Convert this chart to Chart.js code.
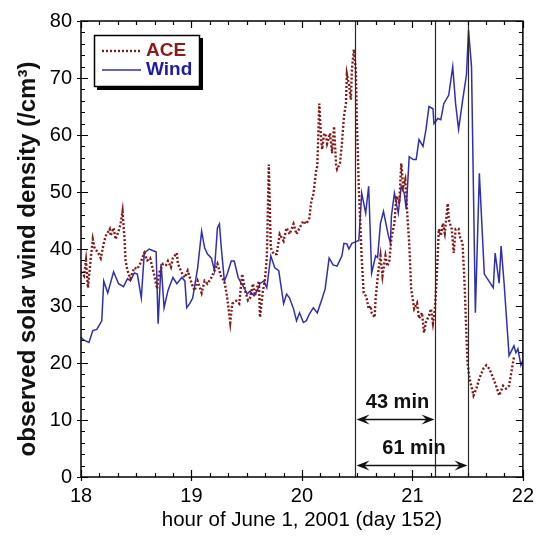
<!DOCTYPE html>
<html>
<head>
<meta charset="utf-8">
<script src="https://cdn.jsdelivr.net/npm/chart.js@4.4.1/dist/chart.umd.min.js"></script>
<style>
  html, body { margin: 0; padding: 0; background: #fff; }
</style>
</head>
<body>
<canvas id="density" width="541" height="540"></canvas>
<script>
// ACE (upstream) density, hour of day
const aceHours = [18.000, 18.027, 18.045, 18.063, 18.089, 18.107, 18.125, 18.152, 18.179, 18.206,
  18.224, 18.260, 18.268, 18.295, 18.313, 18.340, 18.358, 18.376, 18.394, 18.403,
  18.421, 18.447, 18.465, 18.483, 18.510, 18.537, 18.573, 18.600, 18.626, 18.662,
  18.689, 18.707, 18.743, 18.770, 18.787, 18.814, 18.832, 18.868, 18.877, 18.913,
  18.940, 18.966, 19.002, 19.029, 19.056, 19.092, 19.119, 19.145, 19.181, 19.208,
  19.235, 19.271, 19.298, 19.324, 19.351, 19.369, 19.405, 19.432, 19.459, 19.485,
  19.512, 19.530, 19.557, 19.575, 19.611, 19.620, 19.647, 19.664, 19.682, 19.700,
  19.718, 19.745, 19.772, 19.799, 19.834, 19.861, 19.888, 19.924, 19.951, 19.978,
  20.013, 20.040, 20.067, 20.085, 20.103, 20.112, 20.130, 20.139, 20.157, 20.174,
  20.183, 20.201, 20.219, 20.228, 20.255, 20.273, 20.291, 20.309, 20.318, 20.344,
  20.362, 20.380, 20.398, 20.407, 20.425, 20.443, 20.452, 20.470, 20.488, 20.497,
  20.515, 20.532, 20.541, 20.559, 20.577, 20.586, 20.604, 20.622, 20.631, 20.658,
  20.667, 20.694, 20.711, 20.729, 20.756, 20.774, 20.792, 20.810, 20.837, 20.855,
  20.881, 20.899, 20.917, 20.935, 20.953, 20.971, 20.989, 21.016, 21.042, 21.060,
  21.087, 21.105, 21.123, 21.150, 21.168, 21.186, 21.204, 21.221, 21.239, 21.257,
  21.275, 21.293, 21.320, 21.329, 21.356, 21.374, 21.391, 21.418, 21.427, 21.454,
  21.472, 21.490, 21.499, 21.517, 21.553, 21.579, 21.606, 21.642, 21.669, 21.696,
  21.732, 21.758, 21.785, 21.821, 21.848, 21.875, 21.910, 21.919];
const aceDensity = [36, 35.3, 38, 33.2, 38.5, 41.7, 40, 39.5, 38.4, 41,
  42.3, 43.5, 42.3, 43.7, 41.7, 43.1, 44.4, 46.6, 41.7, 38,
  36.2, 34.8, 35.8, 36.7, 36.5, 37.5, 39.3, 38, 38.4, 35.5,
  33, 35.8, 37.4, 37.2, 37.9, 36.8, 38.4, 39.3, 37.4, 35.8,
  35, 36.2, 33.9, 32.7, 34.4, 32.3, 34.4, 33.9, 35, 36.2,
  37.4, 35, 34.4, 31.4, 27.1, 30.4, 30.9, 30.4, 35.6, 32.7,
  31, 31.4, 33.9, 31.8, 34.4, 28, 32.7, 34.4, 38.4, 54.8,
  40.2, 39.1, 39.1, 42.6, 41.4, 43.7, 42.6, 44.4, 42.6, 43.7,
  44.9, 44.4, 45.4, 48.4, 49.6, 51, 54, 54.5, 65.5, 59.2,
  57.5, 60.3, 59.8, 58.5, 60.3, 56.8, 61.5, 54.8, 54, 55,
  58.5, 63.2, 65.5, 70.7, 69, 66.2, 71.4, 75, 71.4, 62.7,
  50.5, 42.8, 38.3, 32.3, 31.8, 31.3, 29.5, 30, 28.8, 28,
  31.3, 36.5, 38.8, 35.3, 38.8, 37, 38, 42, 44.5, 49.3,
  48, 55, 51, 52.2, 46.3, 41, 33, 29.5, 30.5, 27.8,
  28.8, 25.3, 27.2, 28.3, 29.5, 27, 29.5, 35.3, 43.5, 42.3,
  44.5, 42.8, 48, 45.2, 43.5, 39.3, 43.5, 43.5, 42.3, 41,
  34, 24.3, 20, 17.3, 14.3, 15.5, 17.3, 19, 19.6, 19,
  17.3, 16, 14.3, 16, 15.5, 16, 20, 21];

// Wind (near Earth) density
const windHours = [18.000, 18.027, 18.072, 18.107, 18.143, 18.188, 18.206, 18.242, 18.295, 18.340,
  18.385, 18.421, 18.447, 18.483, 18.510, 18.546, 18.573, 18.617, 18.653, 18.680,
  18.698, 18.725, 18.752, 18.787, 18.832, 18.868, 18.913, 18.940, 18.957, 18.984,
  19.011, 19.056, 19.092, 19.119, 19.145, 19.181, 19.208, 19.235, 19.253, 19.271,
  19.298, 19.324, 19.360, 19.387, 19.423, 19.450, 19.477, 19.503, 19.530, 19.566,
  19.593, 19.620, 19.655, 19.682, 19.718, 19.754, 19.790, 19.834, 19.861, 19.888,
  19.924, 19.951, 19.978, 20.013, 20.040, 20.067, 20.103, 20.139, 20.183, 20.210,
  20.246, 20.282, 20.318, 20.362, 20.380, 20.407, 20.425, 20.452, 20.479, 20.515,
  20.541, 20.577, 20.604, 20.631, 20.667, 20.685, 20.711, 20.738, 20.783, 20.801,
  20.810, 20.837, 20.872, 20.899, 20.926, 20.944, 20.971, 21.007, 21.034, 21.060,
  21.096, 21.123, 21.150, 21.186, 21.195, 21.230, 21.257, 21.284, 21.329, 21.365,
  21.391, 21.418, 21.454, 21.490, 21.508, 21.535, 21.570, 21.606, 21.651, 21.732,
  21.749, 21.785, 21.803, 21.830, 21.875, 21.919, 21.937, 21.955, 21.982, 22.000];
const windDensity = [24.5, 24, 23.6, 25.7, 25.9, 27.4, 34.4, 32.3, 36, 33.9,
  33.4, 34.8, 34.4, 35.8, 35.6, 31.4, 39.3, 40, 39.7, 39.5,
  26.9, 37.4, 29.7, 32.7, 35, 33.9, 35, 34.4, 29.7, 30.4,
  31.4, 36.7, 43.1, 40.2, 39.1, 38.4, 36.2, 43.7, 44.4, 40,
  34.4, 35.6, 37.9, 37.9, 35, 34, 33.2, 32.1, 32.6, 31.8,
  32.6, 33.9, 34.4, 33.2, 38.8, 36.7, 36.2, 30.4, 32.1, 31.4,
  29.5, 27.4, 28.8, 27.1, 27.4, 28.6, 29.7, 28.8, 31.3, 33,
  38.4, 37.2, 37, 38.8, 41, 40.9, 40, 41, 41.2, 41.5,
  49.8, 46.3, 51, 35.8, 38.8, 38.5, 44.5, 46.6, 42.3, 41,
  45.8, 49.8, 46.3, 51, 49.8, 47, 56.2, 55.7, 55.7, 59.2,
  58, 61, 65, 64.6, 62, 62.9, 62.7, 65.5, 67, 72,
  65.5, 61, 66, 70.7, 78.4, 72, 28.8, 53.3, 35.6, 33.2,
  39.3, 34, 40.5, 34, 21.3, 23, 21.8, 22.5, 19.6, 20.5];

const hourTicks = [18, 19, 20, 21, 22];
const densityTicks = [0, 10, 20, 30, 40, 50, 60, 70, 80];

// shock seen at ACE, then at Wind 43 min and 61 min later
const lagStart = 20.483;
const lagEnds = [21.2, 21.5];
const lagLabels = ['43 min', '61 min'];

const FONT = "'Liberation Sans', Arial, Helvetica, sans-serif";
const ACE_COLOR = '#841818';
const WIND_COLOR = '#2f2fb2';

function pairs(xs, ys) {
  return xs.map((h, i) => ({ x: h, y: ys[i] }));
}

function arrowHead(ctx, tipX, tipY, dir) {
  ctx.beginPath();
  ctx.moveTo(tipX, tipY);
  ctx.lineTo(tipX - dir * 13, tipY - 5);
  ctx.lineTo(tipX - dir * 8, tipY);
  ctx.lineTo(tipX - dir * 13, tipY + 5);
  ctx.closePath();
  ctx.fill();
}

const decorations = {
  id: 'decorations',
  afterDatasetsDraw(chart) {
    const { ctx, chartArea: a, scales: { x, y } } = chart;
    ctx.save();

    // vertical markers
    ctx.strokeStyle = '#2a2a2a';
    ctx.lineWidth = 1.2;
    [lagStart, ...lagEnds].forEach(h => {
      const px = Math.round(x.getPixelForValue(h)) + 0.5;
      ctx.beginPath();
      ctx.moveTo(px, a.top);
      ctx.lineTo(px, a.bottom);
      ctx.stroke();
    });

    // delay arrows
    const levels = [10.2, 2.1];
    const x0 = Math.round(x.getPixelForValue(lagStart)) + 0.5;
    ctx.fillStyle = '#111';
    ctx.strokeStyle = '#111';
    ctx.lineWidth = 1.5;
    ctx.font = 'bold 20px ' + FONT;
    ctx.textAlign = 'center';
    ctx.textBaseline = 'middle';
    lagEnds.forEach((h, i) => {
      const x1 = Math.round(x.getPixelForValue(h)) + 0.5;
      const py = Math.round(y.getPixelForValue(levels[i])) + 0.5;
      ctx.beginPath();
      ctx.moveTo(x0 + 6, py);
      ctx.lineTo(x1 - 6, py);
      ctx.stroke();
      arrowHead(ctx, x0 + 1, py, -1);
      arrowHead(ctx, x1 - 1, py, 1);
      ctx.fillText(lagLabels[i], (x0 + x1) / 2 + 2, py - 17);
    });

    // frame
    ctx.strokeStyle = '#000';
    ctx.lineWidth = 1.5;
    ctx.strokeRect(a.left, a.top, a.right - a.left, a.bottom - a.top);

    // inward ticks: x every 10 min, y every 2
    ctx.lineWidth = 1.2;
    ctx.beginPath();
    for (let m = 0; m <= 240; m += 10) {
      const px = Math.round(x.getPixelForValue(18 + m / 60)) + 0.5;
      const major = m % 60 === 0;
      const len = major ? 7 : 4;
      ctx.moveTo(px, a.bottom + (major ? 4 : 0));
      ctx.lineTo(px, a.bottom - len);
      ctx.moveTo(px, a.top);
      ctx.lineTo(px, a.top + len);
    }
    for (let v = 0; v <= 80; v += 2) {
      const py = Math.round(y.getPixelForValue(v)) + 0.5;
      const major = v % 10 === 0;
      const len = major ? 7 : 4;
      ctx.moveTo(a.left - (major ? 4 : 0), py);
      ctx.lineTo(a.left + len, py);
      ctx.moveTo(a.right, py);
      ctx.lineTo(a.right - len, py);
    }
    ctx.stroke();

    // legend box with drop shadow
    const lx = a.left + 13, ly = a.top + 14, lw = 106, lh = 52;
    ctx.fillStyle = '#000';
    ctx.fillRect(lx + 3, ly + 3, lw, lh);
    ctx.fillStyle = '#fff';
    ctx.fillRect(lx, ly, lw, lh);
    ctx.lineWidth = 1.5;
    ctx.strokeRect(lx + 0.5, ly + 0.5, lw - 1, lh - 1);

    ctx.lineWidth = 2.4;
    ctx.strokeStyle = ACE_COLOR;
    ctx.setLineDash([2, 2]);
    ctx.beginPath();
    ctx.moveTo(lx + 8, ly + 16);
    ctx.lineTo(lx + 47, ly + 16);
    ctx.stroke();
    ctx.setLineDash([]);
    ctx.lineWidth = 1.5;
    ctx.strokeStyle = WIND_COLOR;
    ctx.beginPath();
    ctx.moveTo(lx + 8, ly + 35);
    ctx.lineTo(lx + 47, ly + 35);
    ctx.stroke();

    ctx.font = 'bold 19px ' + FONT;
    ctx.textAlign = 'left';
    ctx.textBaseline = 'middle';
    ctx.fillStyle = '#8b1a1a';
    ctx.fillText('ACE', lx + 52, ly + 16);
    ctx.fillStyle = '#1c1ca8';
    ctx.fillText('Wind', lx + 52, ly + 35);

    // y axis title
    ctx.save();
    ctx.translate(28, (a.top + a.bottom) / 2 + 10);
    ctx.rotate(-Math.PI / 2);
    ctx.fillStyle = '#111';
    ctx.font = 'bold 24px ' + FONT;
    ctx.textAlign = 'center';
    ctx.fillText('observed solar wind density (/cm³)', 0, 0);
    ctx.restore();

    ctx.restore();
  }
};

const ctx = document.getElementById('density').getContext('2d');
new Chart(ctx, {
  type: 'line',
  data: {
    datasets: [
      {
        label: 'ACE',
        data: pairs(aceHours, aceDensity),
        borderColor: ACE_COLOR,
        borderWidth: 2.4,
        borderDash: [2, 2],
        pointRadius: 0,
        tension: 0,
        fill: false,
      },
      {
        label: 'Wind',
        data: pairs(windHours, windDensity),
        borderColor: WIND_COLOR,
        borderWidth: 1.5,
        pointRadius: 0,
        tension: 0,
        fill: false,
      },
    ],
  },
  options: {
    responsive: false,
    animation: false,
    layout: { padding: { top: 19, right: 13, left: 0, bottom: 0 } },
    plugins: { legend: { display: false }, tooltip: { enabled: false } },
    scales: {
      x: {
        type: 'linear',
        min: 18,
        max: 22,
        afterBuildTicks: s => { s.ticks = hourTicks.map(v => ({ value: v })); },
        afterFit: s => { s.height = 63; },
        ticks: { color: '#000', padding: 7, maxRotation: 0, font: { family: FONT, size: 20 } },
        grid: { display: false, drawTicks: false },
        border: { display: false },
        title: {
          display: true,
          text: 'hour of June 1, 2001 (day 152)',
          color: '#000',
          font: { family: FONT, size: 20.5 },
          padding: { top: 0, bottom: 7 },
        },
      },
      y: {
        min: 0,
        max: 80,
        afterBuildTicks: s => { s.ticks = densityTicks.map(v => ({ value: v })); },
        afterFit: s => { s.width = 81; },
        ticks: { color: '#000', padding: 9, font: { family: FONT, size: 20 } },
        grid: { display: false, drawTicks: false },
        border: { display: false },
      },
    },
  },
  plugins: [decorations],
});
</script>
</body>
</html>
